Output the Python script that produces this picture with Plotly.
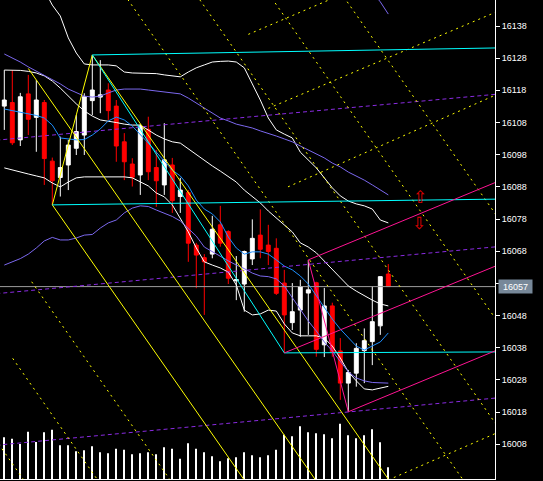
import plotly.graph_objects as go

# ---------------- data ----------------
bars = list(range(49))
opens = [16113.1, 16114.2, 16102.6, 16116.9, 16109.6, 16114.2, 16096.0, 16090.9, 16094.8, 16100.0,
         16104.1, 16114.8, 16115.9, 16118.1, 16113.1, 16102.0, 16095.1, 16091.7, 16105.9, 16094.0,
         16088.6, 16094.8, 16085.0, 16086.2, 16069.9, 16066.0, 16067.1, 16076.2, 16074.1, 16058.8,
         16057.8, 16065.6, 16073.0, 16069.9, 16068.9, 16058.1, 16045.8, 16049.7, 16055.0, 16058.2,
         16038.9, 16051.0, 16037.0, 16027.0, 16030.1, 16037.1, 16039.9, 16044.8, 16060.9]
highs = [16124.3, 16124.3, 16117.2, 16122.8, 16121.2, 16115.0, 16097.1, 16103.6, 16102.6, 16110.3,
         16117.1, 16129.0, 16127.4, 16120.2, 16115.0, 16104.7, 16096.9, 16107.5, 16109.8, 16099.5,
         16107.8, 16097.0, 16090.8, 16087.0, 16070.6, 16067.1, 16079.0, 16082.1, 16074.5, 16066.5,
         16068.2, 16077.9, 16081.0, 16076.2, 16072.0, 16062.2, 16058.1, 16059.1, 16065.3, 16058.5,
         16056.6, 16052.0, 16041.0, 16031.1, 16039.4, 16044.0, 16057.0, 16060.1, 16064.0]
lows = [16105.7, 16101.0, 16100.7, 16104.1, 16098.9, 16088.6, 16082.4, 16085.0, 16087.0, 16097.9,
        16097.9, 16110.3, 16110.9, 16108.8, 16095.8, 16090.1, 16088.1, 16085.5, 16090.1, 16081.8,
        16085.5, 16079.9, 16079.9, 16064.7, 16056.5, 16048.2, 16065.8, 16069.4, 16057.8, 16052.8,
        16049.2, 16063.7, 16065.8, 16063.7, 16054.4, 16036.4, 16043.5, 16041.4, 16042.0, 16035.2,
        16035.1, 16035.2, 16021.8, 16018.1, 16025.9, 16027.0, 16032.6, 16042.0, 16057.0]
closes = [16115.0, 16101.7, 16116.0, 16109.0, 16115.0, 16096.8, 16089.9, 16094.0, 16101.0, 16105.2,
          16116.0, 16118.1, 16116.6, 16111.7, 16100.7, 16095.8, 16091.0, 16106.9, 16092.7, 16089.9,
          16096.4, 16083.7, 16087.0, 16070.5, 16066.8, 16064.7, 16074.8, 16070.5, 16059.6, 16059.2,
          16067.9, 16072.0, 16068.6, 16067.9, 16054.9, 16048.2, 16049.2, 16057.0, 16056.0, 16037.5,
          16051.0, 16036.8, 16027.0, 16030.3, 16037.8, 16040.2, 16046.1, 16060.1, 16057.0]
volumes = [417, 403, 350, 473, 370, 467, 493, 337, 337, 277, 287, 327, 267, 257, 303, 293, 247, 257,
           267, 247, 317, 303, 203, 357, 303, 267, 227, 177, 207, 217, 267, 237, 217, 237, 293, 443,
           427, 527, 467, 457, 447, 407, 553, 437, 407, 437, 497, 367, 117]

ma_fast = [16112.2, 16111.7, 16111.3, 16110.8, 16110.2, 16109.4, 16107.2, 16103.2, 16102.9, 16102.6,
           16102.7, 16104.1, 16106.0, 16108.5, 16109.7, 16108.8, 16106.9, 16104.4, 16101.6, 16098.8,
           16096.0, 16093.2, 16091.4, 16088.3, 16083.9, 16081.1, 16079.6, 16077.1, 16072.4, 16069.0,
           16067.1, 16067.8, 16067.8, 16067.1, 16065.3, 16063.4, 16062.2, 16060.3, 16057.8, 16054.1,
           16050.4, 16046.9, 16043.8, 16041.0, 16038.5, 16037.3, 16038.5, 16039.8, 16042.6]
env_upper = [16129.3, 16128.1, 16126.8, 16125.3, 16124.0, 16122.8, 16121.5, 16120.0, 16118.4, 16117.2,
             16116.2, 16115.9, 16116.2, 16117.2, 16118.1, 16118.4, 16118.4, 16118.4, 16118.1, 16117.8,
             16117.5, 16117.2, 16116.9, 16115.6, 16114.1, 16112.5, 16111.0, 16109.4, 16108.5, 16107.5,
             16106.9, 16106.3, 16105.4, 16104.7, 16103.8, 16102.9, 16102.0, 16100.7, 16099.5, 16098.2,
             16097.0, 16095.4, 16094.2, 16092.6, 16091.4, 16090.1, 16088.6, 16087.0, 16085.5]
env_lower = [16063.7, 16064.7, 16065.7, 16067.1, 16069.0, 16071.2, 16072.3, 16071.5, 16071.5, 16072.1,
             16073.0, 16073.2, 16075.2, 16076.8, 16077.7, 16079.9, 16081.4, 16082.1, 16081.9, 16080.8,
             16079.9, 16078.8, 16077.4, 16075.2, 16072.7, 16069.3, 16067.8, 16066.5, 16065.0, 16063.7,
             16062.6, 16061.2, 16060.3, 16060.1, 16059.4, 16057.2, 16053.5, 16049.7, 16046.3, 16043.2,
             16039.8, 16037.0, 16033.9, 16030.5, 16028.6, 16027.7, 16027.2, 16027.0, 16027.0]
env_top_bars = [45, 46, 47, 48]
env_top = [16152.3, 16148.6, 16145.5, 16141.7]
bb_upper = [16174.1, 16167.8, 16163.2, 16158.5, 16153.9, 16149.2, 16144.5, 16141.1, 16134.3, 16129.6,
            16126.2, 16125.9, 16125.9, 16125.9, 16125.6, 16123.7, 16123.4, 16123.4, 16123.4, 16123.2,
            16122.8, 16122.5, 16122.2, 16123.7, 16125.0, 16125.9, 16126.8, 16127.0, 16127.1, 16126.8,
            16125.0, 16120.0, 16115.0, 16109.4, 16105.7, 16104.4, 16103.2, 16098.8, 16096.4, 16093.9,
            16090.8, 16087.7, 16085.2, 16083.6, 16082.7, 16082.1, 16081.1, 16077.7, 16076.8]
bb_mid = [16124.3, 16124.3, 16124.2, 16123.9, 16123.4, 16122.5, 16120.9, 16118.7, 16116.2, 16113.8,
          16111.6, 16110.0, 16108.8, 16108.5, 16108.0, 16107.5, 16107.2, 16107.2, 16105.7, 16104.1,
          16102.9, 16102.0, 16101.6, 16099.8, 16098.2, 16096.4, 16094.5, 16092.9, 16091.1, 16089.5,
          16087.0, 16084.9, 16083.0, 16080.5, 16078.3, 16076.2, 16074.0, 16070.6, 16069.3, 16067.5,
          16065.0, 16062.2, 16059.7, 16057.2, 16055.6, 16054.1, 16052.8, 16051.6, 16051.0]
bb_lower = [16093.9, 16093.2, 16092.6, 16092.0, 16091.4, 16090.8, 16089.2, 16088.0, 16089.5, 16090.8,
            16091.1, 16091.1, 16091.1, 16091.1, 16091.1, 16091.1, 16090.8, 16089.5, 16088.3, 16086.1,
            16084.9, 16082.4, 16078.3, 16074.0, 16069.0, 16064.7, 16063.7, 16062.8, 16061.5, 16057.5,
            16049.7, 16048.2, 16048.5, 16049.7, 16049.4, 16045.4, 16042.6, 16041.7, 16041.7, 16041.7,
            16041.0, 16038.5, 16034.8, 16030.5, 16027.7, 16025.2, 16024.9, 16025.5, 16026.0]

# chart objects: (bar0, price0, bar1, price1)
cyan_lines = [(11, 16129.0, 62, 16131.2), (6, 16082.4, 62, 16084.2),
              (35, 16036.4, 62, 16036.7), (11, 16129.0, 35, 16036.4)]
yellow_solid = [(6, 16082.4, 11, 16129.0), (6, 16082.4, 31, 15993.3),
                (3, 16124.8, 40, 15993.0), (11, 16129.0, 49, 15993.6)]
yellow_dashed = [(15, 16147.8, 58, 15994.6), (24, 16147.7, 62, 16012.3),
                 (33, 16148.2, 62, 16044.9), (42, 16148.6, 62, 16077.4),
                 (3.425, 16058.5, 28, 15971.0), (1.05, 16034.7, 14, 15988.6),
                 (-2, 16012.7, 4, 15991.3),
                 (30.5, 16135.4, 42, 16147.6), (33.0, 16112.4, 62, 16142.9),
                 (35.46, 16088.0, 62, 16117.2), (48, 15996.9, 62, 16012.0)]
violet_dashed = [(-1, 16102.5, 62, 16116.9), (-1, 16054.8, 62, 16069.5), (-1, 16007.7, 62, 16022.5)]
pink_lines = [(38, 16065.3, 43, 16018.1), (35, 16036.4, 62, 16064.0),
              (38, 16065.3, 62, 16090.0), (43, 16018.1, 62, 16037.7)]
arrows = [(52.0, 16084.9, "⇧"), (51.8, 16076.8, "⇩")]

last_price = 16057.0
y_ticks = list(range(16008, 16139, 10))
y_tick_text = ["" if v == 16058 else str(v) for v in y_ticks]
price_range = [15997.2, 16146.08]
x_range = [-0.5375, 61.3375]

# ---------------- figure ----------------
fig = go.Figure()

fig.add_trace(go.Bar(x=bars, y=volumes, width=0.15, marker=dict(color="white", line=dict(width=0)),
                     yaxis="y", hoverinfo="skip"))

fig.add_trace(go.Candlestick(
    x=bars, open=opens, high=highs, low=lows, close=closes, yaxis="y2", whiskerwidth=0,
    increasing=dict(line=dict(color="white", width=1), fillcolor="white"),
    decreasing=dict(line=dict(color="#FF0000", width=1), fillcolor="#FF0000"),
    hoverinfo="skip"))

def add_series(xs, ys, color):
    fig.add_trace(go.Scatter(x=xs, y=ys, mode="lines", yaxis="y2", hoverinfo="skip",
                             line=dict(color=color, width=1)))

add_series([x_range[0] - 1, x_range[1] + 1], [last_price, last_price], "#9C9C9C")
add_series(bars, bb_upper, "white")
add_series(bars, bb_mid, "white")
add_series(bars, bb_lower, "white")
add_series(bars, env_upper, "#7B68EE")
add_series(bars, env_lower, "#7B68EE")
add_series(env_top_bars, env_top, "#7B68EE")
add_series(bars, ma_fast, "#1E90FF")

def add_seg(s, color, dash=None):
    fig.add_trace(go.Scatter(x=[s[0], s[2]], y=[s[1], s[3]], mode="lines", yaxis="y2",
                             hoverinfo="skip", line=dict(color=color, width=1, dash=dash)))

for s in violet_dashed:
    add_seg(s, "#8A2BE2", "4px,3px")
for s in yellow_dashed:
    add_seg(s, "#FFFF00", "2px,4px")
for s in yellow_solid:
    add_seg(s, "#FFFF00")
for s in cyan_lines:
    add_seg(s, "#00FFFF")
for s in pink_lines:
    add_seg(s, "#FF1493")

annotations = [dict(x=1, xref="paper", xanchor="left", xshift=3, y=last_price, yref="y2",
                    yanchor="middle", text=f"{last_price:.0f}", showarrow=False, width=31, height=11,
                    bgcolor="#778899", font=dict(color="white", size=9, family="Liberation Sans"))]
for bx, py, sym in arrows:
    annotations.append(dict(x=bx, y=py, xref="x", yref="y2", text=sym, showarrow=False,
                            font=dict(color="#E00000", size=17, family="DejaVu Sans")))

fig.update_layout(
    width=543, height=481, margin=dict(l=0, r=48, t=0, b=2),
    paper_bgcolor="black", plot_bgcolor="black", showlegend=False,
    annotations=annotations,
    xaxis=dict(range=x_range, showgrid=False, zeroline=False, showticklabels=False, ticks="",
               showline=True, linecolor="white", linewidth=1, rangeslider=dict(visible=False)),
    yaxis=dict(range=[0, 4790], visible=False, showgrid=False, zeroline=False),
    yaxis2=dict(range=price_range, overlaying="y", side="right", anchor="x",
                showgrid=False, zeroline=False, showline=True, linecolor="white", linewidth=1,
                ticks="outside", ticklen=4, tickcolor="white",
                tickvals=y_ticks, ticktext=y_tick_text,
                tickfont=dict(color="white", size=9, family="Liberation Sans")),
)

fig.write_html("out.html", config={"displayModeBar": False},
               post_script="document.body.style.margin='0';document.body.style.background='black';")
